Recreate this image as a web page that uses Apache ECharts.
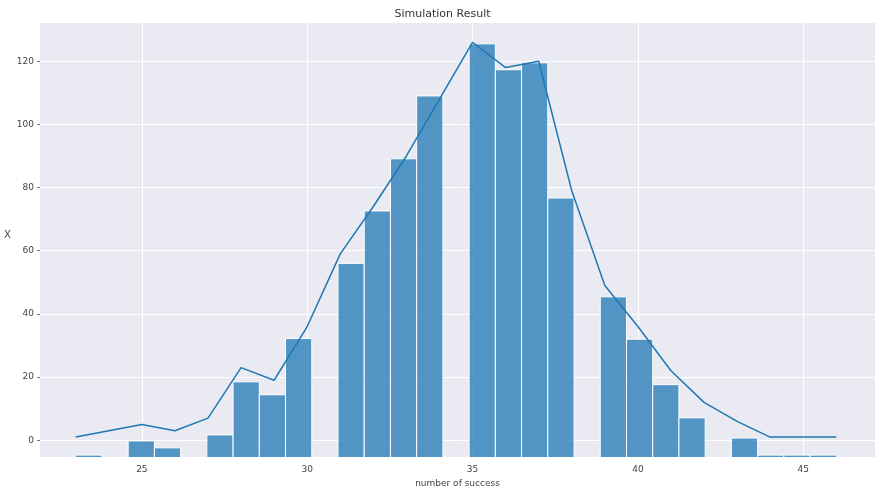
<!DOCTYPE html>
<html lang="en">
<head>
	<meta charset="UTF-8">
	<title>Simulation Result</title>
	<style type="text/css">
	body,html{
		width: 100%;
		height: 100%;
		margin: 0;
		padding: 0;
		background: #ffffff;
	}
	#chart{
		width: 885px;
		height: 493px;
	}
	</style>
</head>
<body>
	<div id="chart"></div>
<script type="text/javascript" src="https://cdn.jsdelivr.net/npm/echarts@6/dist/echarts.min.js"></script>
<script type="text/javascript">
	// histogram: 29 bins between binStart and binEnd, null = empty bin
	var binStart = 23;
	var binEnd = 46;
	var binHeights = [-4.7, null, -0.2, -2.4, null, 1.7, 18.5, 14.4, 32.2, null,
		56, 72.6, 89.1, 109, null, 125.5, 117.3, 119.5, 76.7, null,
		45.4, 32, 17.6, 7.1, null, 0.7, -4.7, -4.7, -4.7];

	// count line
	var lineX = [23, 25, 26, 27, 28, 29, 30, 31, 32, 33, 34, 35, 36, 37, 38, 39, 40, 41, 42, 43, 44, 45, 46];
	var lineY = [1, 5, 3, 7, 23, 19, 36, 59, 74, 90, 108, 126, 118, 120, 79, 49, 36, 22, 12, 6, 1, 1, 1];

	var xTicks = [25, 30, 35, 40, 45];
	var yTicks = [0, 20, 40, 60, 80, 100, 120];

	var xMin = 21.92, xMax = 47.17;
	var yMin = -5.3, yMax = 132.1;

	var binWidth = (binEnd - binStart) / binHeights.length;
	var barData = [];
	binHeights.forEach(function (h, i) {
		if (h === null) return;
		barData.push([binStart + i * binWidth, binStart + (i + 1) * binWidth, h]);
	});
	var lineData = lineX.map(function (x, i) { return [x, lineY[i]]; });

	var chart = echarts.init(document.getElementById('chart'));
	var labelFont = {color: '#444', fontSize: 9, fontFamily: 'DejaVu Sans'};

	var option = {
		animation: false,
		title: {
			text: 'Simulation Result',
			left: 'center',
			top: 4,
			textStyle: {color: '#333', fontSize: 11, fontWeight: 'normal', fontFamily: 'DejaVu Sans'}
		},
		grid: {left: 40, right: 10, top: 23, bottom: 36, backgroundColor: '#eaeaf2', show: true, borderWidth: 0},
		xAxis: {
			type: 'value',
			min: xMin,
			max: xMax,
			name: 'number of success',
			nameLocation: 'middle',
			nameGap: 22,
			nameTextStyle: labelFont,
			axisLine: {show: false},
			axisTick: {show: false, customValues: xTicks},
			axisLabel: Object.assign({customValues: xTicks, margin: 8}, labelFont),
			splitLine: {show: true, lineStyle: {color: '#ffffff', width: 1}}
		},
		yAxis: {
			type: 'value',
			min: yMin,
			max: yMax,
			name: 'X',
			nameLocation: 'middle',
			nameRotate: 0,
			nameGap: 27,
			nameTextStyle: {color: '#444', fontSize: 10, fontFamily: 'DejaVu Sans', verticalAlign: 'bottom'},
			axisLine: {show: false},
			axisTick: {show: true, length: 3, customValues: yTicks, lineStyle: {color: '#555', width: 0.8}},
			axisLabel: Object.assign({customValues: yTicks, margin: 6}, labelFont),
			splitLine: {show: true, lineStyle: {color: '#ffffff', width: 1}}
		},
		series: [{
			type: 'custom',
			clip: true,
			data: barData,
			renderItem: function (params, api) {
				var p0 = api.coord([api.value(0), api.value(2)]);
				var p1 = api.coord([api.value(1), yMin - 10]);
				return {
					type: 'rect',
					shape: {x: p0[0], y: p0[1], width: p1[0] - p0[0], height: p1[1] - p0[1]},
					style: {fill: 'rgba(31,119,180,0.75)', stroke: '#ffffff', lineWidth: 1}
				};
			},
			encode: {x: [0, 1], y: 2},
			z: 2
		}, {
			type: 'line',
			data: lineData,
			symbol: 'none',
			lineStyle: {color: '#1f77b4', width: 1.5},
			z: 3
		}]
	};

	chart.setOption(option);
	window.addEventListener('resize', function () {
		chart.resize();
	});
</script>
</body>
</html>
